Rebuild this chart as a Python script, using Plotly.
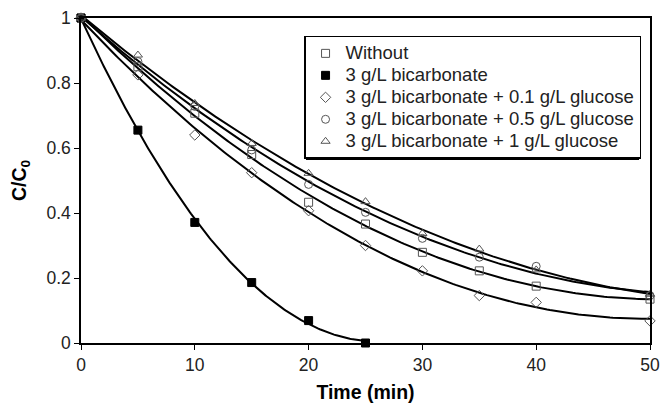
import numpy as np
import plotly.graph_objects as go

# ---- data ----
time_all = [0, 5, 10, 15, 20, 25, 30, 35, 40, 50]
time_bicarb = [0, 5, 10, 15, 20, 25]

without = [1.0, 0.85, 0.707, 0.58, 0.433, 0.366, 0.279, 0.222, 0.175, 0.135]
bicarb = [1.0, 0.655, 0.371, 0.186, 0.069, 0.0]
gluc_01 = [1.0, 0.825, 0.64, 0.524, 0.407, 0.30, 0.222, 0.146, 0.125, 0.068]
gluc_05 = [1.0, 0.866, 0.728, 0.594, 0.488, 0.402, 0.322, 0.264, 0.236, 0.146]
gluc_1 = [1.0, 0.886, 0.737, 0.614, 0.522, 0.435, 0.337, 0.289, 0.225, 0.15]

names = ["Without", "3 g/L bicarbonate", "3 g/L bicarbonate + 0.1 g/L glucose",
         "3 g/L bicarbonate + 0.5 g/L glucose", "3 g/L bicarbonate + 1 g/L glucose"]

x_ticks = [0, 10, 20, 30, 40, 50]
y_ticks = [0, 0.2, 0.4, 0.6, 0.8, 1]

series = [
    (names[0], time_all, without, "square-open", "#555555", 8),
    (names[1], time_bicarb, bicarb, "square", "black", 8),
    (names[2], time_all, gluc_01, "diamond-open", "#555555", 8),
    (names[3], time_all, gluc_05, "circle-open", "#555555", 8),
    (names[4], time_all, gluc_1, "triangle-up-open", "#555555", 8),
]

fig = go.Figure()

# polynomial trend lines (order 2) fitted to each series
for name, t, v, sym, col, sz in series:
    coef = np.polyfit(t, v, 2)
    tt = np.linspace(min(t), max(t), 200)
    fig.add_trace(go.Scatter(x=tt, y=np.polyval(coef, tt), mode="lines",
                             line=dict(color="black", width=2),
                             showlegend=False, hoverinfo="skip"))

for name, t, v, sym, col, sz in series:
    if sym == "square":
        marker = dict(symbol=sym, size=sz, color="black", line=dict(color="black", width=1))
    else:
        marker = dict(symbol=sym, size=sz, color=col, line=dict(color=col, width=1))
    fig.add_trace(go.Scatter(x=t, y=v, mode="markers",
                             name='<span style="font-size:18.5px">' + name + '</span>',
                             marker=marker, cliponaxis=False))

# legend drop shadow
fig.add_shape(type="rect", xref="paper", yref="paper",
              x0=0.3954, x1=0.9807, y0=0.5631, y1=0.9385,
              fillcolor="black", line=dict(width=0), layer="above")

font = "Liberation Sans, Arial, sans-serif"
fig.update_layout(
    width=661, height=403,
    margin=dict(l=81, r=11, t=18, b=60, autoexpand=False),
    paper_bgcolor="white", plot_bgcolor="white",
    font=dict(family=font, size=17.5, color="#222222"),
    showlegend=True,
    legend=dict(x=0.392, y=0.945, xanchor="left", yanchor="top",
                bgcolor="white", bordercolor="black", borderwidth=1.5,
                font=dict(size=14.6, color="#222222"), itemwidth=30, tracegroupgap=0),
    xaxis=dict(range=[0, 50], tickvals=x_ticks, showgrid=False, zeroline=False,
               showline=True, linecolor="black", linewidth=1.5, mirror=True,
               ticks="outside", ticklen=5, tickcolor="black", automargin=False,
               title=dict(text="<b>Time (min)</b>", font=dict(size=19.5, color="black"),
                          standoff=12)),
    yaxis=dict(range=[0, 1], tickvals=y_ticks, showgrid=False, zeroline=False,
               showline=True, linecolor="black", linewidth=1.5, mirror=True,
               ticks="outside", ticklen=5, tickcolor="black", automargin=False,
               title=dict(text="<b>C/C<sub>0</sub></b>", font=dict(size=19.5, color="black"))),
)

fig.write_html("out.html", config={"displayModeBar": False},
               post_script="document.body.style.margin='0';document.body.style.overflow='hidden';")
